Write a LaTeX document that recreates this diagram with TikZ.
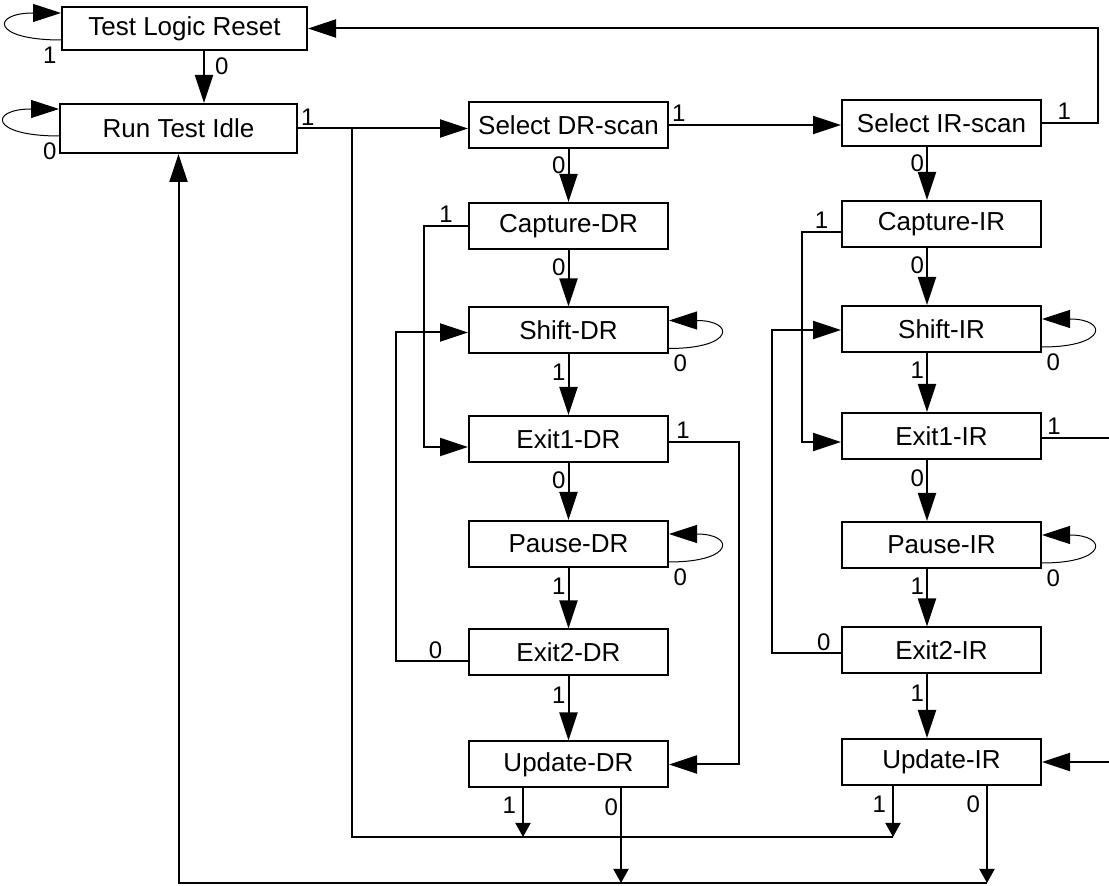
\documentclass[tikz,border=0pt]{standalone}
\usepackage{fontspec}
\setmainfont{Liberation Sans}
\usetikzlibrary{arrows.meta,positioning,calc}

\begin{document}
\begin{tikzpicture}[x=0.5pt, y=-0.5pt,
    state/.style={rectangle, draw, line width=1pt, minimum width=99.5pt, minimum height=23pt, inner sep=0pt, font=\fontsize{13}{15}\selectfont},
    lbl/.style={font=\fontsize{12}{14}\selectfont, inner sep=1pt},
    wire/.style={line width=1pt},
    arr/.style={wire, -{Triangle[length=14pt, width=9pt]}},
    sarr/.style={wire, -{Triangle[length=7pt, width=7.5pt]}},
    loopline/.style={line width=0.5pt, -{Triangle[length=14pt, width=9pt]}},
]
    \useasboundingbox (0,0) rectangle (1109,886);
    \clip (0,0) rectangle (1109,886);

    % idle states
    \node[state, minimum width=122.5pt, minimum height=21.5pt] (tlr) at (184.5,28.5) {Test Logic Reset};
    \node[state, minimum width=118.5pt, minimum height=24.5pt] (rti) at (178.5,128.5) {Run Test Idle};

    % DR and IR columns
    \node[state] (seldr) at (568.5,125) {Select DR-scan};
    \node[state] (selir) at (941.5,123) {Select IR-scan};
    \foreach \s/\yd/\yi/\t in {cap/226/224/Capture, sh/330.5/329/Shift, ex1/439/436/Exit1, pau/544/545/Pause, ex2/652.5/650.5/Exit2, up/764.5/762/Update} {
        \node[state] (\s dr) at (568.5,\yd) {\t-DR};
        \node[state] (\s ir) at (941.5,\yi) {\t-IR};
    }

    % straight down the columns
    \foreach \c/\dx in {dr/0pt, ir/-7.25pt} {
        \foreach \a/\b/\v in {sel/cap/0, cap/sh/0, sh/ex1/1, ex1/pau/0, pau/ex2/1, ex2/up/1}
            \draw[arr] ([xshift=\dx]\a\c.south) -- ([xshift=\dx]\b\c.north) node[lbl, left, pos=0.3] {\v};
    }

    % self loops
    \foreach \s in {shdr, paudr, shir, pauir}
        \draw[loopline] ([yshift=3pt]\s.south east) node[lbl, below right=2pt and 1pt] {0}
            .. controls +(33pt,0) and +(33pt,0) .. ([yshift=-7pt]\s.north east);
    \draw[loopline] ([yshift=5.5pt]tlr.south west) node[lbl, below left=2pt and 1pt] {1}
        .. controls +(-35pt,0) and +(-35pt,0) .. ([yshift=-3.5pt]tlr.north west);
    \draw[loopline] ([yshift=9pt]rti.south west) node[lbl, below left=2pt and 0pt] {0}
        .. controls +(-35pt,0) and +(-35pt,0) .. ([yshift=-3pt]rti.north west);

    % top row
    \draw[arr] ([xshift=9.75pt]tlr.south) -- ([xshift=9.75pt]tlr.south |- rti.north) node[lbl, right=4pt, pos=0.3] {0};
    \draw[arr] (rti.east) node[lbl, above right] {1} -- (rti.east -| seldr.west);
    \draw[arr] (seldr.east) node[lbl, above right] {1} -- (seldr.east -| selir.west);
    \draw[arr] (selir.east) -- node[lbl, above, pos=0.4] {1} ++(28pt,0) |- (tlr.east);

    % side returns, DR
    \draw[arr] (capdr.west) -- node[lbl, above] {1} ++(-22pt,0) |- ([yshift=-4pt]ex1dr.west);
    \draw[arr] ([yshift=-4.5pt]ex2dr.west) -- node[lbl, above, pos=0.45] {0} ++(-36pt,0) |- ([yshift=-1pt]shdr.west);
    \draw[arr] ([yshift=-1.5pt]ex1dr.east) -- node[lbl, above, pos=0.2] {1} ++(35pt,0) |- (updr.east);

    % side returns, IR
    \draw[arr] ([yshift=-4pt]capir.west) -- node[lbl, above] {1} ++(-19.5pt,0) |- ([yshift=-3pt]ex1ir.west);
    \draw[arr] ([yshift=-1.5pt]ex2ir.west) -- node[lbl, above, pos=0.25] {0} ++(-34.5pt,0) |- ([yshift=-0.5pt]shir.west);
    \draw[arr] ([yshift=-1pt]ex1ir.east) -- node[lbl, above, pos=0.15] {1} ++(40pt,0) |- (upir.east);

    % bottom buses
    \coordinate (split) at (352,128.5);
    \coordinate (bus1) at (0,837);
    \coordinate (bus2) at (0,883);
    \draw[wire] (split) |- ([xshift=-24.25pt]upir.south |- bus1);
    \draw[sarr] ([xshift=-22.75pt]updr.south) -- ([xshift=-22.75pt]updr.south |- bus1) node[lbl, left=2pt, pos=0.35] {1};
    \draw[sarr] ([xshift=26.25pt]updr.south) -- ([xshift=26.25pt]updr.south |- bus2) node[lbl, left, pos=0.2] {0};
    \draw[sarr] ([xshift=-24.25pt]upir.south) -- ([xshift=-24.25pt]upir.south |- bus1) node[lbl, left=2pt, pos=0.35] {1};
    \draw[sarr] ([xshift=22.75pt]upir.south) -- ([xshift=22.75pt]upir.south |- bus2) node[lbl, left=2pt, pos=0.19] {0};
    \draw[arr] ([xshift=22.75pt]upir.south |- bus2) -| (rti.south);
\end{tikzpicture}
\end{document}
